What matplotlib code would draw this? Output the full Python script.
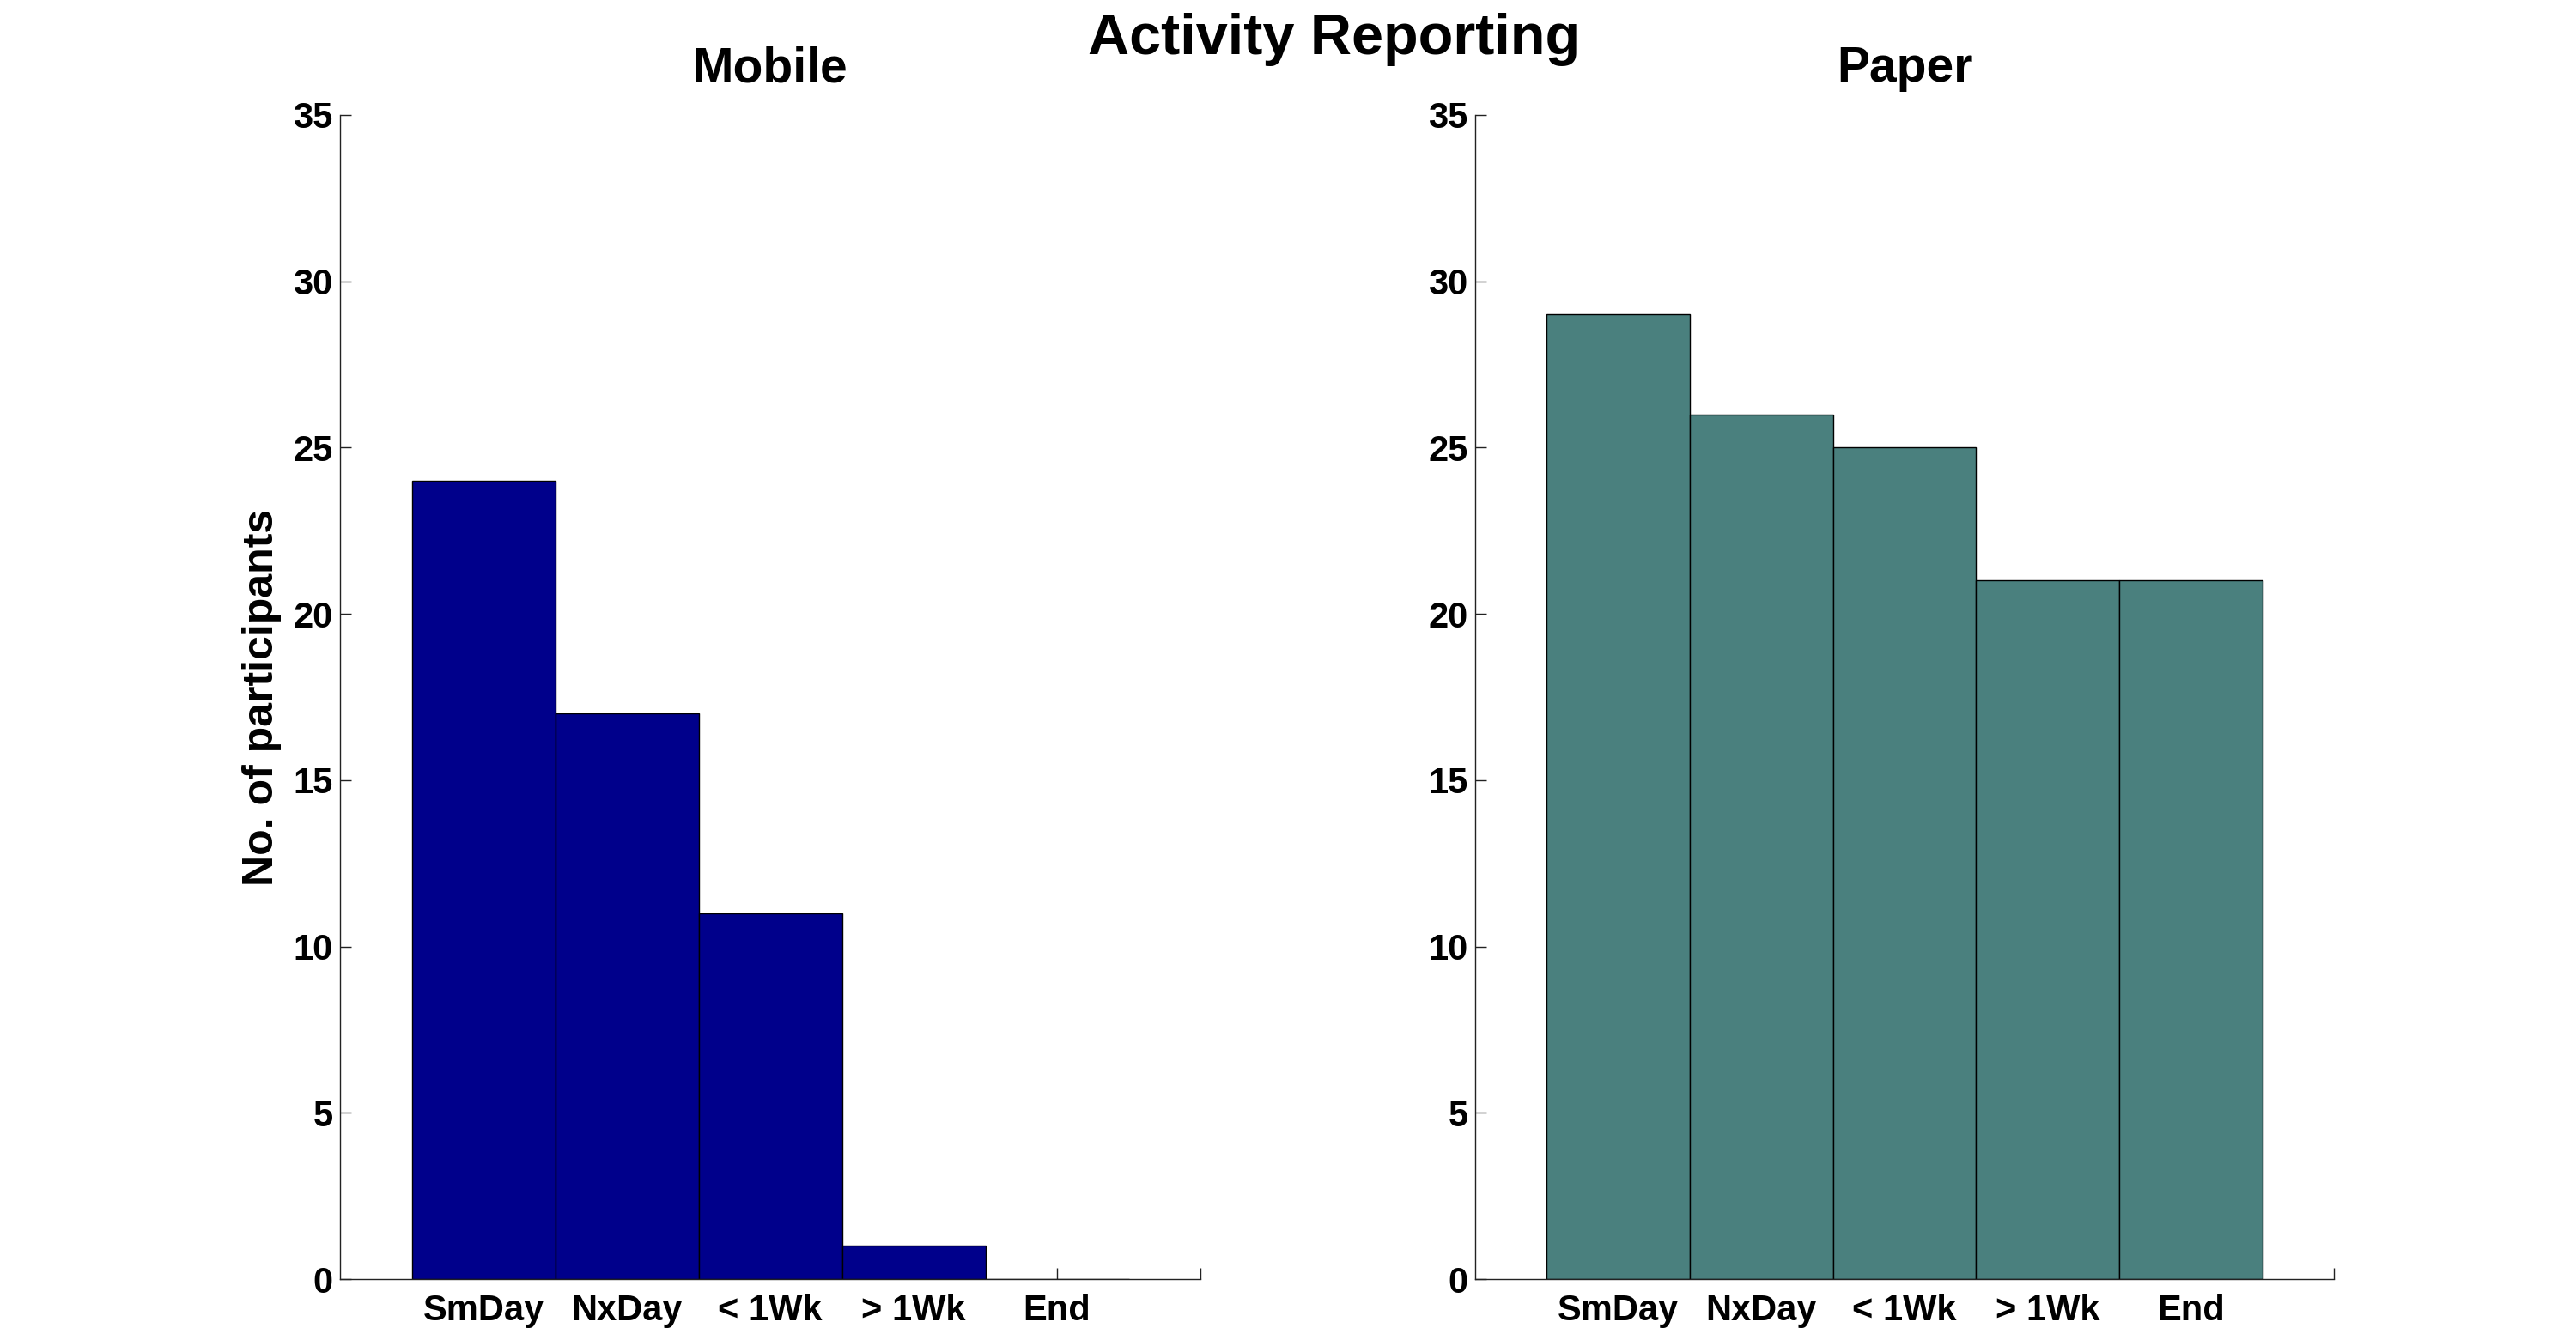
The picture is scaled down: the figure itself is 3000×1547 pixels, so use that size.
import numpy as np
import matplotlib
matplotlib.use('Agg')
import matplotlib.pyplot as plt

plt.rcParams['font.family'] = ['Liberation Sans', 'DejaVu Sans']
plt.rcParams['font.weight'] = 'bold'

# дані
categories = ['SmDay', 'NxDay', '< 1Wk', '> 1Wk', 'End']
mobile_counts = [24, 17, 11, 1, 0]
paper_counts = [29, 26, 25, 21, 21]
y_ticks = [0, 5, 10, 15, 20, 25, 30, 35]


def draw_panel(ax, values, color, title):
    x = np.arange(1, len(values) + 1)
    ax.bar(x, values, width=1.0, color=color, edgecolor='black', linewidth=0.5, zorder=2)
    ax.set_xlim(0, 6)
    ax.set_ylim(0, 35)
    ax.set_xticks(list(x) + [6])
    ax.set_xticklabels(categories + [''])
    ax.set_yticks(y_ticks)
    ax.set_axisbelow(True)
    ax.spines['top'].set_visible(False)
    ax.spines['right'].set_visible(False)
    for s in ['left', 'bottom']:
        ax.spines[s].set_linewidth(0.5)
        ax.spines[s].set_color('#222222')
    ax.tick_params(direction='in', length=4.7, width=0.5, color='#222222', labelsize=15)
    ax.tick_params(axis='y', pad=3)
    ax.tick_params(axis='x', pad=6)
    for lbl in ax.get_xticklabels() + ax.get_yticklabels():
        lbl.set_fontweight('bold')
    ax.set_title(title, fontsize=20.5, fontweight='bold', pad=14)


fig = plt.figure(figsize=(15, 7.735), dpi=200)

ax1 = fig.add_axes([0.132, 0.0368, 0.334, 0.8766])
draw_panel(ax1, mobile_counts, '#00008B', 'Mobile')
ax1.set_ylabel('No. of participants', fontsize=18, fontweight='bold', labelpad=5)

ax2 = fig.add_axes([0.5727, 0.0368, 0.3333, 0.8766])
draw_panel(ax2, paper_counts, '#4A807E', 'Paper')

fig.suptitle('Activity Reporting', x=0.518, y=0.99, va='top', fontsize=24, fontweight='bold')

fig.savefig('out.png', dpi=200)
